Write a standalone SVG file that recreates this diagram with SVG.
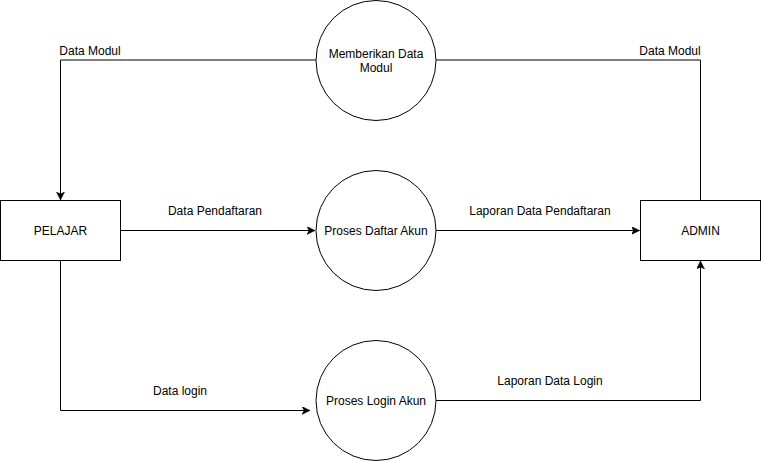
<svg xmlns="http://www.w3.org/2000/svg" width="761" height="462" viewBox="0 0 761 462">
<style>
.shape{fill:#fff;stroke:#000;stroke-width:1}
.edge{fill:none;stroke:#000;stroke-width:1}
text{font-family:"Liberation Sans",Arial,sans-serif;font-size:12px;fill:#000;text-anchor:middle}
</style>
<defs>
<marker id="arr" markerWidth="10" markerHeight="10" refX="8" refY="4" orient="auto" markerUnits="userSpaceOnUse">
<path d="M0,0 L8,4 L0,8 L2,4 Z" fill="#000" stroke="#000" stroke-width="0.5"/>
</marker>
</defs>
<rect width="761" height="462" fill="#fff"/>
<g id="connectors">
<path class="edge" d="M316,60 H60.5 V200" marker-end="url(#arr)"/>
<path class="edge" d="M436,60 H700.5 V200"/>
<path class="edge" d="M120.5,230.5 H315" marker-end="url(#arr)"/>
<path class="edge" d="M436,230.5 H639.5" marker-end="url(#arr)"/>
<path class="edge" d="M60.5,260.5 V410.5 H310" marker-end="url(#arr)"/>
<path class="edge" d="M436,400.5 H700.5 V261" marker-end="url(#arr)"/>
<text x="90" y="55">Data Modul</text>
<text x="670" y="55">Data Modul</text>
<text x="215" y="215">Data Pendaftaran</text>
<text x="540" y="215">Laporan Data Pendaftaran</text>
<text x="180" y="395">Data login</text>
<text x="550" y="385">Laporan Data Login</text>
</g>
<g id="pelajar">
<rect class="shape" x="0.5" y="200.5" width="120" height="60"/>
<text x="60.5" y="235">PELAJAR</text>
</g>
<g id="admin">
<rect class="shape" x="640.5" y="200.5" width="120" height="60"/>
<text x="700.5" y="235">ADMIN</text>
</g>
<g id="memberikan">
<circle class="shape" cx="376" cy="60.5" r="60"/>
<text x="376" y="58">Memberikan Data</text>
<text x="376" y="72">Modul</text>
</g>
<g id="daftar">
<circle class="shape" cx="376" cy="230.5" r="60"/>
<text x="376" y="235">Proses Daftar Akun</text>
</g>
<g id="login">
<circle class="shape" cx="376" cy="400.5" r="60"/>
<text x="376" y="405">Proses Login Akun</text>
</g>
</svg>
